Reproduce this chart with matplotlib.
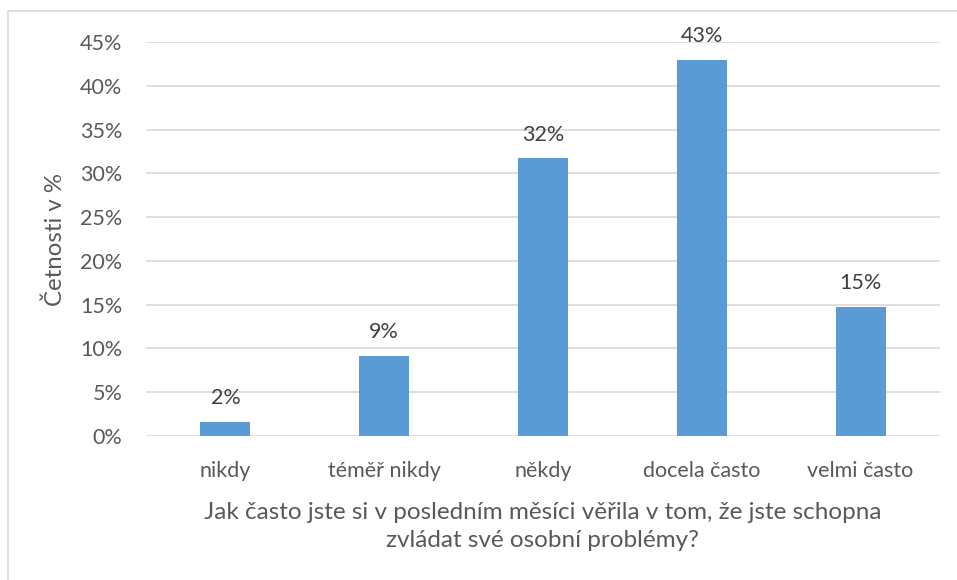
import matplotlib.pyplot as plt
from matplotlib.patches import Rectangle

plt.rcParams['font.family'] = ['Lato', 'DejaVu Sans']

categories = ['nikdy', 'téměř nikdy', 'někdy', 'docela často', 'velmi často']
values = [1.6, 9.1, 31.7, 42.9, 14.7]
yticks = [0, 5, 10, 15, 20, 25, 30, 35, 40, 45]

txt = '#595959'
blue = '#5B9BD5'

fig = plt.figure(figsize=(9.57, 5.80), dpi=100)
# thin frame of the chart area
fig.patches.append(Rectangle((8 / 957, -0.1), 1.0, 1 - 11 / 580 + 0.1,
                             transform=fig.transFigure, fill=False,
                             edgecolor='#D9D9D9', linewidth=1.2))

ax = fig.add_axes([146 / 957, 1 - 436 / 580, (940 - 146) / 957, (436 - 42) / 580])
x = range(len(categories))
ax.bar(x, values, width=0.315, color=blue, zorder=3)

for xi, v in zip(x, values):
    ax.annotate(f'{v:.0f}%', (xi, v), xytext=(0, 10), textcoords='offset points',
                ha='center', va='bottom', fontsize=15.5, color='#404040')

ax.set_xlim(-0.5, len(categories) - 0.5)
ax.set_ylim(0, 45)
ax.set_yticks(yticks)
ax.set_yticklabels([f'{t}%' for t in yticks])
ax.set_xticks(list(x))
ax.set_xticklabels(categories)
ax.yaxis.grid(True, color='#D9D9D9', linewidth=1.2, zorder=0)
ax.tick_params(length=0, labelsize=15.5, colors=txt)
ax.tick_params(axis='x', pad=18)
ax.tick_params(axis='y', pad=17)
for s in ax.spines.values():
    s.set_visible(False)
ax.set_axisbelow(True)

ax.set_xlabel('Jak často jste si v posledním měsíci věřila v tom, že jste schopna\n'
              'zvládat své osobní problémy?', fontsize=17.5, color=txt, labelpad=15,
              linespacing=1.45)
ax.set_ylabel('Četnosti v %', fontsize=17.3, color=txt, labelpad=10)

fig.savefig('out.png', dpi=100)
